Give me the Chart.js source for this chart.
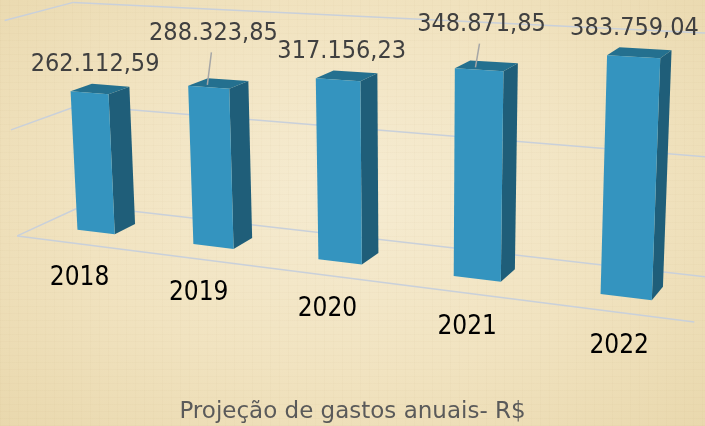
<!DOCTYPE html>
<html>
<head>
<meta charset="utf-8">
<script src="https://cdn.jsdelivr.net/npm/chart.js@4.4.1/dist/chart.umd.min.js"></script>
<style>
    html, body { margin: 0; padding: 0; }
    #wrap {
        width: 705px;
        height: 426px;
        position: relative;
        background:
            repeating-linear-gradient(0deg, rgba(170, 140, 90, 0.035) 0 1px, transparent 1px 7px),
            repeating-linear-gradient(90deg, rgba(170, 140, 90, 0.03) 0 1px, transparent 1px 9px),
            radial-gradient(ellipse at 50% 45%, #f6ecd2 0%, #f1e3c0 55%, #e9d8ad 100%);
    }
</style>
</head>
<body>
<div id="wrap"><canvas id="chart-gastos" width="705" height="426"></canvas></div>
<script>
const years = ['2018', '2019', '2020', '2021', '2022']
const gastos = [262112.59, 288323.85, 317156.23, 348871.85, 383759.04]
const yTicks = [0, 200000, 400000]
const chartTitle = 'Projeção de gastos anuais- R$'

// labels 2019 and 2021 were pulled up in the original, with a leader line
const labelLift = [0, 26, 0, 17, 0]

// camera: plot coords s (0..1 across), t (0..1 up) and depth d -> canvas pixels
const cam = [
    [537.7, -12.5, 40.5, 22.5],
    [26.25, -211.5, 225.2, -5.5],
    [-0.1803, -0.03, 1, 0.02]
]
const barDepth = 1
const floorFront = -1.05
const floorBack = 2.05

function proj(s, t, d) {
    const w = cam[2][0] * s + cam[2][1] * t + cam[2][2] + cam[2][3] * d
    return [
        (cam[0][0] * s + cam[0][1] * t + cam[0][2] + cam[0][3] * d) / w,
        (cam[1][0] * s + cam[1][1] * t + cam[1][2] + cam[1][3] * d) / w
    ]
}

function poly(ctx, pts, fill) {
    ctx.beginPath()
    ctx.moveTo(pts[0][0], pts[0][1])
    pts.slice(1).forEach(p => ctx.lineTo(p[0], p[1]))
    ctx.closePath()
    ctx.fillStyle = fill
    ctx.fill()
}

function line(ctx, a, b) {
    ctx.beginPath()
    ctx.moveTo(a[0], a[1])
    ctx.lineTo(b[0], b[1])
    ctx.stroke()
}

function formatBR(v) {
    const [int, dec] = v.toFixed(2).split('.')
    return int.replace(/\B(?=(\d{3})+(?!\d))/g, '.') + ',' + dec
}

const perspective3d = {
    id: 'perspective3d',
    afterDatasetsDraw(chart) {
        const ctx = chart.ctx
        const area = chart.chartArea
        const yScale = chart.scales.y
        const y0 = yScale.getPixelForValue(0)
        const yTop = yScale.getPixelForValue(yScale.max)
        const tOf = py => (y0 - py) / (y0 - yTop)
        const sOf = px => (px - area.left) / (area.right - area.left)

        ctx.save()

        // walls and floor
        ctx.strokeStyle = '#c9d0da'
        ctx.lineWidth = 1.5
        yTicks.forEach(v => {
            const t = tOf(yScale.getPixelForValue(v))
            line(ctx, proj(0, t, floorBack), proj(1, t, floorBack))
            line(ctx, proj(0, t, floorFront), proj(0, t, floorBack))
        })
        line(ctx, proj(0, 0, floorFront), proj(1, 0, floorFront))

        // bars
        const bars = chart.getDatasetMeta(0).data
        const tops = []
        bars.forEach((el, i) => {
            const { x, y, width } = el.getProps(['x', 'y', 'width'], true)
            const s0 = sOf(x - width / 2)
            const s1 = sOf(x + width / 2)
            const t = tOf(y)
            poly(ctx, [proj(s1, 0, 0), proj(s1, 0, barDepth), proj(s1, t, barDepth), proj(s1, t, 0)], '#1f5e79')
            poly(ctx, [proj(s0, t, 0), proj(s1, t, 0), proj(s1, t, barDepth), proj(s0, t, barDepth)], '#24708f')
            poly(ctx, [proj(s0, 0, 0), proj(s1, 0, 0), proj(s1, t, 0), proj(s0, t, 0)], '#3494bf')
            tops.push({ s: sOf(x), t })
        })

        // value labels
        ctx.font = '25px "DejaVu Sans Condensed", "DejaVu Sans", sans-serif'
        ctx.textAlign = 'center'
        ctx.textBaseline = 'middle'
        tops.forEach((b, i) => {
            const p = proj(b.s, b.t, barDepth / 2)
            const lx = p[0] - 5
            const ly = p[1] - 24 - labelLift[i]
            if (labelLift[i] > 0) {
                ctx.strokeStyle = '#a6a6a6'
                ctx.lineWidth = 1.5
                const end = proj(b.s - 0.01, b.t, 0.25)
                line(ctx, [lx - 2, ly + 19], end)
            }
            ctx.fillStyle = '#404040'
            ctx.fillText(formatBR(gastos[i]), lx, ly)
        })

        // category labels along the front edge of the floor
        ctx.font = '26px "Liberation Sans Narrow", "DejaVu Sans Condensed", sans-serif'
        ctx.fillStyle = '#000'
        tops.forEach((b, i) => {
            const p = proj(b.s, 0, floorFront)
            ctx.fillText(chart.data.labels[i], p[0] + 6, p[1] + 35)
        })

        ctx.restore()
    }
}

const data = {
    labels: years,
    datasets: [{
        data: gastos,
        label: 'Gastos',
        backgroundColor: 'rgba(0, 0, 0, 0)',
        borderWidth: 0,
        barPercentage: 0.33,
        categoryPercentage: 1
    }]
}

const options = {
    responsive: false,
    animation: false,
    layout: { padding: 0 },
    scales: {
        x: { display: false },
        y: { display: false, min: 0, max: 400000, ticks: { stepSize: 200000 } }
    },
    plugins: {
        legend: { display: false },
        tooltip: { enabled: false },
        title: {
            display: true,
            text: chartTitle,
            position: 'bottom',
            color: '#5a5a5a',
            font: { size: 23, family: '"DejaVu Sans", sans-serif', weight: 'normal' },
            padding: { top: 0, bottom: 0 }
        }
    }
}

new Chart('chart-gastos', { type: 'bar', data, options, plugins: [perspective3d] })
</script>
</body>
</html>
